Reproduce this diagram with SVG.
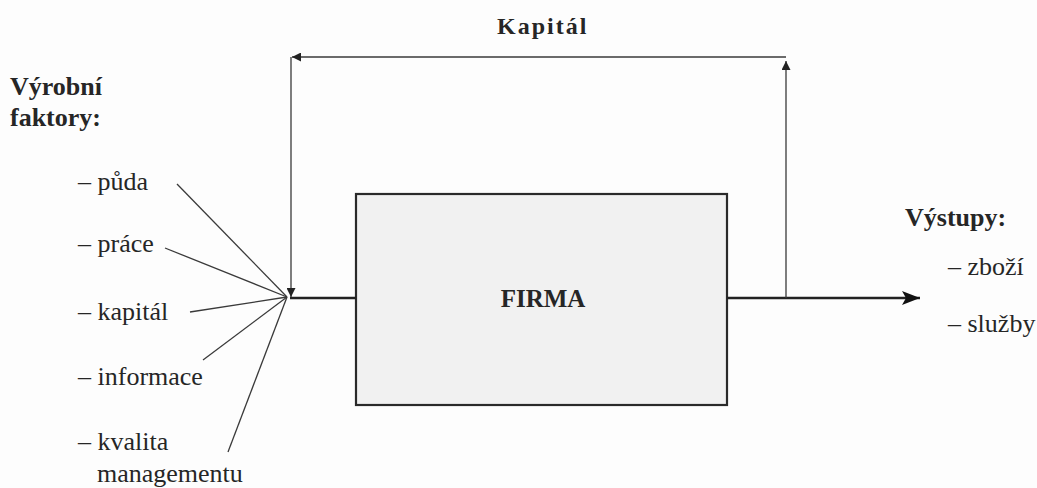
<svg xmlns="http://www.w3.org/2000/svg" width="1037" height="488" viewBox="0 0 1037 488">
<style>
text{font-family:'Liberation Serif','DejaVu Serif',serif;fill:#262626;font-size:26px}
.b{font-weight:bold}
.thin{stroke:#3a3a3a;stroke-width:1.3;fill:none}
.main{stroke:#222;stroke-width:2.6;fill:none}
</style>
<defs>
<marker id="sm" viewBox="0 0 10 10" refX="10" refY="5" markerWidth="9" markerHeight="9" markerUnits="userSpaceOnUse" orient="auto"><path d="M0,0 L10,5 L0,10 z" fill="#222"/></marker>
<marker id="big" viewBox="0 0 18 14" refX="18" refY="7" markerWidth="18" markerHeight="14" markerUnits="userSpaceOnUse" orient="auto"><path d="M0,0 L18,7 L0,14 L4,7 z" fill="#111"/></marker>
</defs>
<rect width="1037" height="488" fill="#fdfdfd"/>
<g id="kapital-label"><text class="b" x="497" y="34" style="font-size:24px;letter-spacing:2px">Kapitál</text></g>
<g id="vstupy-label">
<text class="b" x="10" y="95">Výrobní</text>
<text class="b" x="10" y="126">faktory:</text>
</g>
<g id="f-puda"><text x="78" y="190">– půda</text></g>
<g id="f-prace"><text x="78" y="252">– práce</text></g>
<g id="f-kapital"><text x="78" y="320">– kapitál</text></g>
<g id="f-informace"><text x="78" y="385">– informace</text></g>
<g id="f-kvalita"><text x="78" y="450">– kvalita</text><text x="97" y="482">managementu</text></g>
<g id="firma">
<rect x="356" y="194" width="371" height="211" fill="#f1f1f1" stroke="#2a2a2a" stroke-width="2.2"/>
<text class="b" x="543" y="307" text-anchor="middle" style="font-size:25px">FIRMA</text>
</g>
<g id="vystupy">
<text class="b" x="905" y="226">Výstupy:</text>
<text x="948" y="275">– zboží</text>
<text x="948" y="332">– služby</text>
</g>
<g id="connectors">
<line class="thin" x1="177" y1="184" x2="287" y2="297"/>
<line class="thin" x1="165" y1="248" x2="287" y2="297"/>
<line class="thin" x1="190" y1="312" x2="287" y2="297"/>
<line class="thin" x1="203" y1="360" x2="287" y2="297"/>
<line class="thin" x1="228" y1="452" x2="287" y2="297"/>
<line class="main" x1="290" y1="298" x2="356" y2="298"/>
<line class="main" x1="727" y1="298" x2="920" y2="298" marker-end="url(#big)"/>
<line class="thin" x1="786" y1="298" x2="786" y2="61" marker-end="url(#sm)"/>
<line class="thin" x1="786" y1="57" x2="292" y2="57" marker-end="url(#sm)"/>
<line class="thin" x1="291" y1="57" x2="291" y2="297" marker-end="url(#sm)"/>
</g>
</svg>
